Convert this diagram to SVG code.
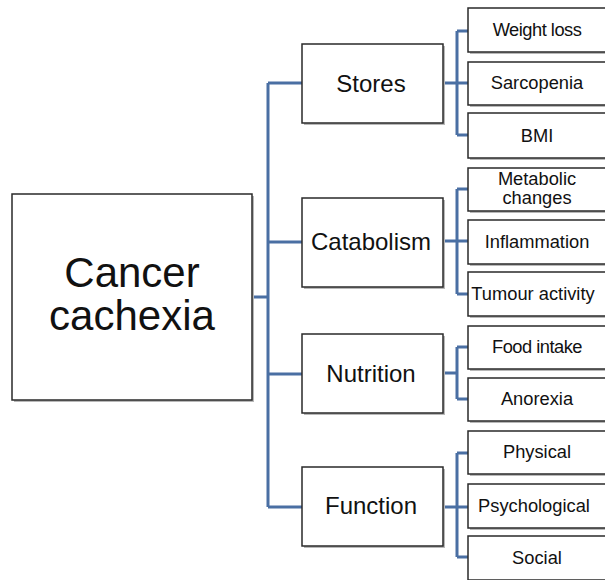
<svg xmlns="http://www.w3.org/2000/svg" width="605" height="580" viewBox="0 0 605 580">
<style>
.box{fill:#fff;stroke:#2a2a2a;stroke-width:1.5}
.sh{fill:#b8b8b8}
.ln{fill:none;stroke:#4a6fa3;stroke-width:3}
text{font-family:"Liberation Sans",Arial,sans-serif;fill:#111;text-anchor:middle}
.t0{font-size:42px}
.t1{font-size:24px}
.t2{font-size:18.3px}
</style>
<rect width="605" height="580" fill="#fff"/>
<g id="connectors">
<path class="ln" d="M252 297H268M268 83V507M268 83H302M268 242H302M268 374H302M268 507H302"/>
<path class="ln" d="M443 83H468M457 31V135M457 31H468M457 135H468"/>
<path class="ln" d="M443 241H468M457 189V294M457 189H468M457 294H468"/>
<path class="ln" d="M443 373H457M457 347V399M457 347H468M457 399H468"/>
<path class="ln" d="M443 507H468M457 453V557M457 453H468M457 557H468"/>
</g>
<g id="cancer-cachexia">
<rect class="sh" x="14" y="196" width="240" height="206"/>
<rect class="box" x="12" y="194" width="240" height="206"/>
<text class="t0" x="132" y="287">Cancer</text>
<text class="t0" x="132" y="330">cachexia</text>
</g>
<g id="stores">
<rect class="sh" x="304" y="46" width="141" height="79"/>
<rect class="box" x="302" y="44" width="141" height="79"/>
<text class="t1" x="371" y="92">Stores</text>
</g>
<g id="catabolism">
<rect class="sh" x="304" y="200" width="141" height="89"/>
<rect class="box" x="302" y="198" width="141" height="89"/>
<text class="t1" x="371" y="250">Catabolism</text>
</g>
<g id="nutrition">
<rect class="sh" x="304" y="336" width="141" height="79"/>
<rect class="box" x="302" y="334" width="141" height="79"/>
<text class="t1" x="371" y="382">Nutrition</text>
</g>
<g id="function">
<rect class="sh" x="304" y="469" width="141" height="79"/>
<rect class="box" x="302" y="467" width="141" height="79"/>
<text class="t1" x="371" y="514">Function</text>
</g>
<g id="weight-loss">
<rect class="sh" x="470" y="10" width="150" height="44"/>
<rect class="box" x="468" y="8" width="150" height="44"/>
<text class="t2" x="537" y="36" letter-spacing="-0.5">Weight loss</text>
</g>
<g id="sarcopenia">
<rect class="sh" x="470" y="64" width="150" height="43"/>
<rect class="box" x="468" y="62" width="150" height="43"/>
<text class="t2" x="537" y="89">Sarcopenia</text>
</g>
<g id="bmi">
<rect class="sh" x="470" y="115" width="150" height="45"/>
<rect class="box" x="468" y="113" width="150" height="45"/>
<text class="t2" x="537" y="142">BMI</text>
</g>
<g id="metabolic-changes">
<rect class="sh" x="470" y="170" width="150" height="43"/>
<rect class="box" x="468" y="168" width="150" height="43"/>
<text class="t2" x="537" y="185">Metabolic</text>
<text class="t2" x="537" y="204">changes</text>
</g>
<g id="inflammation">
<rect class="sh" x="470" y="222" width="150" height="44"/>
<rect class="box" x="468" y="220" width="150" height="44"/>
<text class="t2" x="537" y="248">Inflammation</text>
</g>
<g id="tumour-activity">
<rect class="sh" x="470" y="274" width="150" height="44"/>
<rect class="box" x="468" y="272" width="150" height="44"/>
<text class="t2" x="533" y="300">Tumour activity</text>
</g>
<g id="food-intake">
<rect class="sh" x="470" y="328" width="150" height="43"/>
<rect class="box" x="468" y="326" width="150" height="43"/>
<text class="t2" x="537" y="353" letter-spacing="-0.5">Food intake</text>
</g>
<g id="anorexia">
<rect class="sh" x="470" y="380" width="150" height="43"/>
<rect class="box" x="468" y="378" width="150" height="43"/>
<text class="t2" x="537" y="405">Anorexia</text>
</g>
<g id="physical">
<rect class="sh" x="470" y="433" width="150" height="43"/>
<rect class="box" x="468" y="431" width="150" height="43"/>
<text class="t2" x="537" y="458">Physical</text>
</g>
<g id="psychological">
<rect class="sh" x="470" y="486" width="150" height="44"/>
<rect class="box" x="468" y="484" width="150" height="44"/>
<text class="t2" x="534" y="512">Psychological</text>
</g>
<g id="social">
<rect class="sh" x="470" y="538" width="150" height="44"/>
<rect class="box" x="468" y="536" width="150" height="44"/>
<text class="t2" x="537" y="564">Social</text>
</g>
</svg>
